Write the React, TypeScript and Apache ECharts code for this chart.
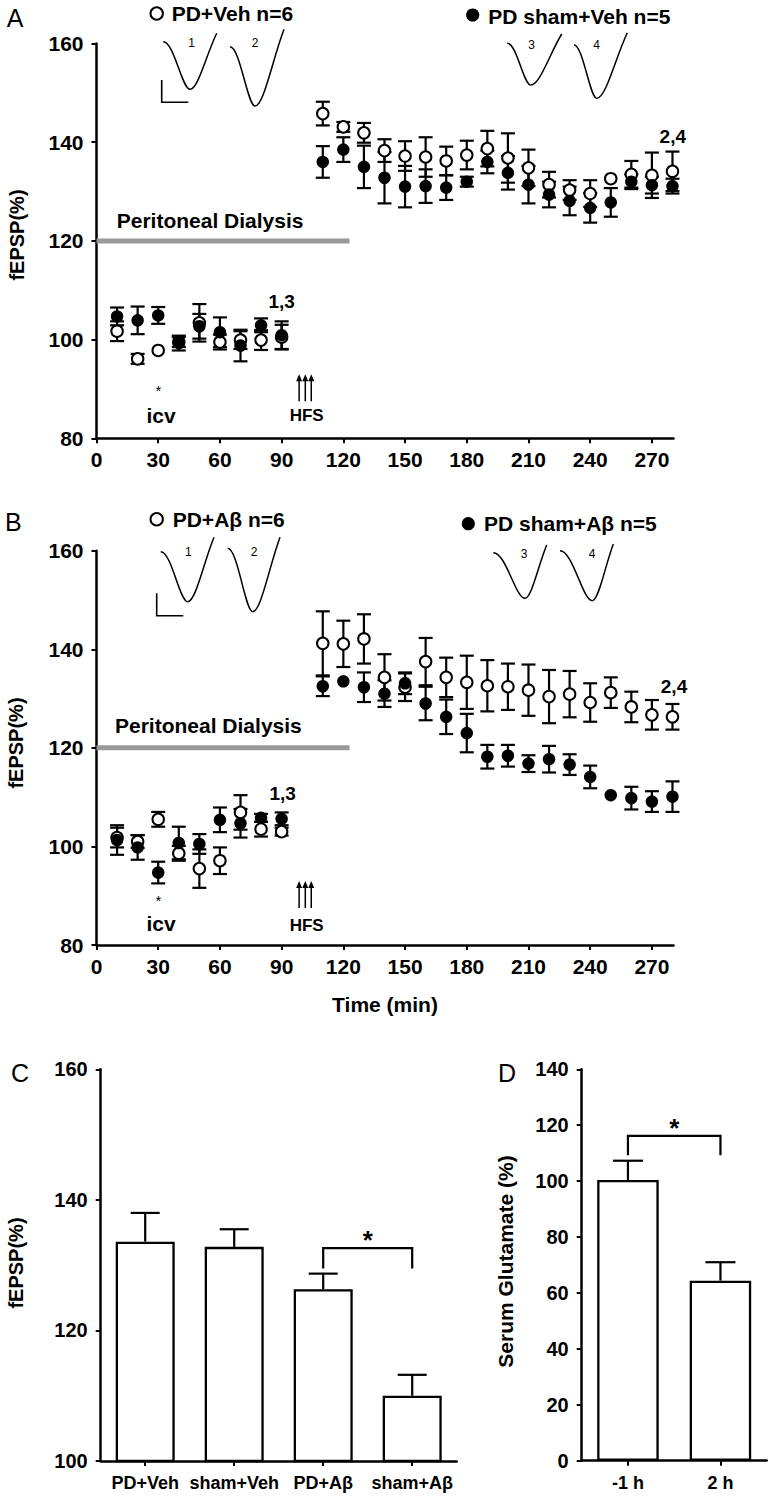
import React, { useEffect, useRef } from 'react';
import * as echarts from 'echarts';

const FONT = "'Liberation Sans', Arial, Helvetica, sans-serif";

// ---------- Data ----------
const TIMES = [10, 20, 30, 40, 50, 60, 70, 80, 90, 110, 120, 130, 140, 150, 160, 170, 180, 190, 200, 210, 220, 230, 240, 250, 260, 270, 280];
const X_TICKS = [0, 30, 60, 90, 120, 150, 180, 210, 240, 270];

// Panel A: PD+Veh (open) and PD sham+Veh (filled)
const A_OPEN_MEAN = [101.7, 96.1, 97.8, 99.5, 103.4, 99.5, 99.9, 99.9, 100.5, 145.8, 143.1, 141.9, 138.3, 137.2, 137.0, 136.2, 137.4, 138.7, 136.8, 134.8, 131.4, 130.3, 129.6, 132.6, 133.5, 133.3, 134.1];
const A_OPEN_ERR = [2.0, 1.0, 0, 1.0, 3.8, 1.5, 1.8, 2.0, 2.5, 2.4, 1.0, 2.0, 2.3, 3.0, 4.0, 2.9, 2.9, 3.6, 5.0, 3.7, 2.6, 2.0, 2.7, 0, 2.7, 4.6, 4.0];
const A_FILLED_MEAN = [104.7, 103.9, 104.9, 99.3, 102.7, 101.5, 98.8, 102.9, 100.9, 136.0, 138.5, 135.0, 132.8, 131.0, 131.1, 130.8, 132.0, 136.0, 133.8, 131.4, 129.4, 128.1, 126.7, 127.8, 132.0, 131.3, 131.1];
const A_FILLED_ERR = [1.8, 2.8, 1.7, 1.5, 2.5, 3.0, 3.2, 1.4, 2.8, 3.2, 2.5, 4.3, 5.2, 4.2, 3.4, 2.5, 1.0, 2.3, 3.4, 3.8, 2.6, 2.9, 3.0, 2.9, 1.5, 1.7, 1.5];

// Panel B: PD+Aβ (open) and PD sham+Aβ (filled)
const B_OPEN_MEAN = [101.8, 101.0, 105.5, 98.6, 95.5, 97.1, 106.9, 103.5, 103.0, 141.2, 141.1, 142.1, 134.3, 132.3, 137.5, 134.3, 133.3, 132.6, 132.4, 131.7, 130.4, 130.9, 129.2, 131.2, 128.3, 126.7, 126.3];
const B_OPEN_ERR = [2.0, 1.3, 1.5, 1.5, 3.9, 2.7, 3.5, 1.5, 0.8, 6.5, 4.7, 5.0, 4.7, 2.8, 4.8, 4.0, 5.4, 5.2, 4.7, 5.2, 5.4, 4.7, 3.9, 3.1, 3.1, 3.0, 2.6];
const B_FILLED_MEAN = [101.3, 99.8, 94.7, 100.7, 100.5, 105.4, 104.7, 105.8, 105.6, 132.5, 133.5, 132.3, 131.0, 133.1, 129.0, 126.3, 123.0, 118.2, 118.4, 116.8, 117.7, 116.6, 114.1, 110.4, 109.8, 109.1, 110.1];
const B_FILLED_ERR = [3.0, 2.5, 2.2, 3.3, 2.0, 2.5, 2.9, 0.8, 1.3, 2.0, 0, 3.0, 2.7, 2.2, 3.4, 3.5, 3.9, 2.4, 2.2, 1.7, 2.7, 2.1, 2.3, 0, 2.3, 2.1, 3.1];

// Peritoneal dialysis period and HFS arrows
const DIALYSIS = [[0, 120], [123, 120]];
const HFS_TIMES = [98.5, 101.5, 104.4];
const HFS_RANGE = [87.5, 93.0];

// Panel C
const C_CATS = ['PD+Veh', 'sham+Veh', 'PD+Aβ', 'sham+Aβ'];
const C_MEAN = [133.6, 132.8, 126.3, 110.0];
const C_ERR = [4.4, 2.7, 2.4, 3.2];
const C_BRACKET = [[2, 3, 132.6, 129.5]];

// Panel D
const D_CATS = ['-1 h', '2 h'];
const D_MEAN = [100.4, 64.4];
const D_ERR = [6.9, 6.6];
const D_BRACKET = [[0, 1, 116.2, 109.3]];

// ---------- helpers ----------
const AXIS_LINE = { show: true, onZero: false, lineStyle: { color: '#000', width: 2.5 } };
const AXIS_TICK = { show: true, length: 5, lineStyle: { color: '#000', width: 2 } };

function timeXAxis(gridIndex: number) {
  return {
    type: 'value', gridIndex, min: 0, max: 280.5,
    axisLine: AXIS_LINE,
    axisTick: { ...AXIS_TICK, customValues: X_TICKS },
    axisLabel: {
      customValues: X_TICKS, margin: 11, color: '#000', fontFamily: FONT, fontWeight: 'bold', fontSize: 21,
      formatter: (v: number) => (v % 30 === 0 ? String(v) : ''),
    },
    splitLine: { show: false },
  };
}

function catXAxis(gridIndex: number, cats: string[]) {
  return {
    type: 'category', gridIndex, data: cats,
    axisLine: AXIS_LINE,
    axisTick: { ...AXIS_TICK, alignWithLabel: true },
    axisLabel: { margin: 13, color: '#000', fontFamily: FONT, fontWeight: 'bold', fontSize: 18, interval: 0 },
    splitLine: { show: false },
  };
}

function valYAxis(gridIndex: number, min: number, max: number, fontSize: number) {
  return {
    type: 'value', gridIndex, min, max, interval: 20,
    axisLine: AXIS_LINE,
    axisTick: AXIS_TICK,
    axisLabel: { margin: 13, color: '#000', fontFamily: FONT, fontWeight: 'bold', fontSize },
    splitLine: { show: false },
  };
}

function errSeries(idx: number, xs: any[], means: number[], errs: number[], capHalf: number, upOnly: boolean) {
  return {
    type: 'custom', xAxisIndex: idx, yAxisIndex: idx, silent: true,
    encode: { x: 0, y: 1 },
    data: xs.map((x, i) => [x, means[i], errs[i]]),
    renderItem: (params: any, api: any) => {
      const x = api.value(0), m = api.value(1), e = api.value(2);
      if (!e) return { type: 'group', children: [] };
      const top = api.coord([x, m + e]);
      const bot = api.coord([x, upOnly ? m : m - e]);
      const st = { stroke: '#000', lineWidth: 2.2 };
      const children: any[] = [
        { type: 'line', shape: { x1: top[0], y1: top[1], x2: bot[0], y2: bot[1] }, style: st },
        { type: 'line', shape: { x1: top[0] - capHalf, y1: top[1], x2: top[0] + capHalf, y2: top[1] }, style: st },
      ];
      if (!upOnly) children.push({ type: 'line', shape: { x1: bot[0] - capHalf, y1: bot[1], x2: bot[0] + capHalf, y2: bot[1] }, style: st });
      return { type: 'group', children };
    },
  };
}

function scatterSeries(idx: number, means: number[], filled: boolean) {
  return {
    type: 'scatter', xAxisIndex: idx, yAxisIndex: idx, silent: true,
    data: TIMES.map((t, i) => [t, means[i]]),
    symbol: 'circle',
    symbolSize: filled ? 12.5 : 11.5,
    itemStyle: filled
      ? { color: '#000', opacity: 1 }
      : { color: '#fff', borderColor: '#000', borderWidth: 2, opacity: 1 },
  };
}

function dialysisSeries(idx: number) {
  return {
    type: 'line', xAxisIndex: idx, yAxisIndex: idx, silent: true, data: DIALYSIS,
    showSymbol: false, symbol: 'none', lineStyle: { color: '#9a9a9a', width: 5 }, z: 1,
  };
}

function arrowSeries(idx: number) {
  return {
    type: 'custom', xAxisIndex: idx, yAxisIndex: idx, silent: true,
    encode: { x: 0, y: 1 },
    data: HFS_TIMES.map((t) => [t, HFS_RANGE[0], HFS_RANGE[1]]),
    renderItem: (params: any, api: any) => {
      const b = api.coord([api.value(0), api.value(1)]);
      const t = api.coord([api.value(0), api.value(2)]);
      return {
        type: 'group', children: [
          { type: 'line', shape: { x1: b[0], y1: b[1], x2: t[0], y2: t[1] + 5 }, style: { stroke: '#000', lineWidth: 1.5 } },
          { type: 'polygon', shape: { points: [[t[0], t[1]], [t[0] - 3, t[1] + 7], [t[0] + 3, t[1] + 7]] }, style: { fill: '#000' } },
        ],
      };
    },
  };
}

function barSeries(idx: number, means: number[], width: number) {
  return {
    type: 'bar', xAxisIndex: idx, yAxisIndex: idx, silent: true, data: means, barWidth: width,
    itemStyle: { color: '#fff', borderColor: '#000', borderWidth: 2.3 },
  };
}

function bracketSeries(idx: number, data: number[][]) {
  return {
    type: 'custom', xAxisIndex: idx, yAxisIndex: idx, silent: true,
    encode: { x: 0, y: 2 },
    data,
    renderItem: (params: any, api: any) => {
      const a = api.coord([api.value(0), api.value(2)]);
      const b = api.coord([api.value(1), api.value(2)]);
      const la = api.coord([api.value(0), api.value(3)]);
      return {
        type: 'group', children: [
          { type: 'polyline', shape: { points: [[a[0], la[1]], [a[0], a[1]], [b[0], a[1]], [b[0], la[1]]] }, style: { stroke: '#000', lineWidth: 2.2, fill: 'none' } },
          { type: 'text', x: (a[0] + b[0]) / 2, y: a[1] - 8, style: { text: '*', fontSize: 26, fontFamily: FONT, fontWeight: 'bold', fill: '#000', align: 'center', verticalAlign: 'middle' } },
        ],
      };
    },
  };
}

function txt(x: number, y: number, text: string, fontSize: number, opts: any = {}) {
  return {
    type: 'text', x, y, rotation: opts.rotation || 0, silent: true,
    style: {
      text, fontSize, fontFamily: FONT, fontWeight: opts.weight || 'bold', fill: '#000',
      align: opts.align || 'center', verticalAlign: 'middle',
    },
  };
}

function trace(x0: number, y0: number, xm: number, ym: number, x1: number, y1: number) {
  const st = { stroke: '#000', lineWidth: 1.5, fill: 'none' };
  return [
    { type: 'bezierCurve', silent: true, shape: { x1: x0, y1: y0, x2: xm, y2: ym, cpx1: x0 + 0.4 * (xm - x0), cpy1: y0, cpx2: xm - 0.3 * (xm - x0), cpy2: ym }, style: st },
    { type: 'bezierCurve', silent: true, shape: { x1: xm, y1: ym, x2: x1, y2: y1, cpx1: xm + 0.3 * (x1 - xm), cpy1: ym, cpx2: x1 - 0.4 * (x1 - xm), cpy2: y1 + 0.4 * (ym - y1) }, style: st },
  ];
}

function circle(cx: number, cy: number, r: number, filled: boolean) {
  return {
    type: 'circle', silent: true, shape: { cx, cy, r },
    style: filled ? { fill: '#000' } : { fill: '#fff', stroke: '#000', lineWidth: 2 },
  };
}

function scaleBar(x: number, y0: number, y1: number, x1: number) {
  return { type: 'polyline', silent: true, shape: { points: [[x, y0], [x, y1], [x1, y1]] }, style: { stroke: '#000', lineWidth: 1.6, fill: 'none' } };
}

const ROT = Math.PI / 2;

const GRAPHICS: any[] = [
  // Panel A
  txt(15, 17.5, 'A', 25, { weight: 'normal' }),
  circle(156.7, 13.5, 6.2, false),
  txt(171.7, 13, 'PD+Veh n=6', 21, { align: 'left' }),
  circle(472.7, 15, 6.6, true),
  txt(488.3, 16, 'PD sham+Veh n=5', 21, { align: 'left' }),
  ...trace(163.3, 41.7, 190, 89.3, 216.7, 33.3),
  ...trace(230, 46.7, 255, 106, 284, 29.3),
  ...trace(507.3, 43.3, 530.7, 85, 561.7, 34),
  ...trace(574, 45, 596.7, 98.3, 627.3, 32.7),
  txt(191.7, 43.3, '1', 12, { weight: 'normal' }),
  txt(255, 43.3, '2', 12, { weight: 'normal' }),
  txt(531.7, 45, '3', 12, { weight: 'normal' }),
  txt(596.7, 45, '4', 12, { weight: 'normal' }),
  scaleBar(161.7, 80, 102.3, 188.3),
  txt(116.7, 220.3, 'Peritoneal Dialysis', 21, { align: 'left' }),
  txt(281.7, 301, '1,3', 19),
  txt(672.8, 136.3, '2,4', 19),
  txt(158.3, 390, '*', 15, { weight: 'normal' }),
  txt(161, 415.4, 'icv', 21),
  txt(306.7, 415.8, 'HFS', 17),
  txt(16.7, 235, 'fEPSP(%)', 20, { rotation: ROT }),

  // Panel B
  txt(13.3, 521.7, 'B', 25, { weight: 'normal' }),
  circle(156.7, 519.3, 6.2, false),
  txt(172.7, 519.3, 'PD+Aβ n=6', 21, { align: 'left' }),
  circle(468.3, 523.7, 6.6, true),
  txt(484, 523.8, 'PD sham+Aβ n=5', 21, { align: 'left' }),
  ...trace(160.7, 551.7, 187.7, 601.7, 214, 537.3),
  ...trace(227.7, 548.3, 252.7, 611.7, 280, 537.3),
  ...trace(493.3, 552.7, 525, 598.3, 546.7, 545),
  ...trace(560, 550.7, 592.3, 600.7, 613.3, 544),
  txt(188.3, 551.7, '1', 12, { weight: 'normal' }),
  txt(254, 551.7, '2', 12, { weight: 'normal' }),
  txt(524, 554, '3', 12, { weight: 'normal' }),
  txt(592, 554, '4', 12, { weight: 'normal' }),
  scaleBar(156.7, 593.3, 615.7, 183.3),
  txt(115, 725, 'Peritoneal Dialysis', 21, { align: 'left' }),
  txt(282.7, 793, '1,3', 19),
  txt(674, 686.7, '2,4', 19),
  txt(158.3, 900, '*', 15, { weight: 'normal' }),
  txt(161, 923.7, 'icv', 21),
  txt(306.7, 925.8, 'HFS', 17),
  txt(15.5, 743, 'fEPSP(%)', 20, { rotation: ROT }),
  txt(385, 1004, 'Time (min)', 21),

  // Panel C
  txt(20, 1073, 'C', 25, { weight: 'normal' }),
  txt(16.3, 1263, 'fEPSP(%)', 20, { rotation: ROT }),

  // Panel D
  txt(507, 1073, 'D', 25, { weight: 'normal' }),
  txt(505, 1261.5, 'Serum Glutamate (%)', 21, { rotation: ROT }),
];

function buildOption() {
  return {
    animation: false,
    backgroundColor: '#fff',
    textStyle: { fontFamily: FONT },
    grid: [
      { left: 96.5, top: 43.5, width: 577, height: 394.8 },
      { left: 96.5, top: 550.7, width: 577, height: 394.3 },
      { left: 100.7, top: 1069.3, width: 356, height: 391.7 },
      { left: 581.7, top: 1069.3, width: 185, height: 391.4 },
    ],
    xAxis: [timeXAxis(0), timeXAxis(1), catXAxis(2, C_CATS), catXAxis(3, D_CATS)],
    yAxis: [valYAxis(0, 80, 160, 21), valYAxis(1, 80, 160, 21), valYAxis(2, 100, 160, 20), valYAxis(3, 0, 140, 20)],
    series: [
      dialysisSeries(0),
      errSeries(0, TIMES, A_OPEN_MEAN, A_OPEN_ERR, 7, false),
      scatterSeries(0, A_OPEN_MEAN, false),
      errSeries(0, TIMES, A_FILLED_MEAN, A_FILLED_ERR, 7, false),
      scatterSeries(0, A_FILLED_MEAN, true),
      arrowSeries(0),

      dialysisSeries(1),
      errSeries(1, TIMES, B_OPEN_MEAN, B_OPEN_ERR, 7, false),
      scatterSeries(1, B_OPEN_MEAN, false),
      errSeries(1, TIMES, B_FILLED_MEAN, B_FILLED_ERR, 7, false),
      scatterSeries(1, B_FILLED_MEAN, true),
      arrowSeries(1),

      barSeries(2, C_MEAN, 59),
      errSeries(2, C_CATS.map((_, i) => i), C_MEAN, C_ERR, 14.5, true),
      bracketSeries(2, C_BRACKET),

      barSeries(3, D_MEAN, 61.5),
      errSeries(3, D_CATS.map((_, i) => i), D_MEAN, D_ERR, 15, true),
      bracketSeries(3, D_BRACKET),
    ],
    graphic: GRAPHICS,
  };
}

export default function App() {
  const ref = useRef<HTMLDivElement>(null);
  useEffect(() => {
    document.body.style.margin = '0';
    if (!ref.current) return;
    const chart = echarts.init(ref.current, null, { renderer: 'svg' });
    chart.setOption(buildOption() as any);
    return () => chart.dispose();
  }, []);
  return <div ref={ref} style={{ width: 770, height: 1496 }} />;
}
